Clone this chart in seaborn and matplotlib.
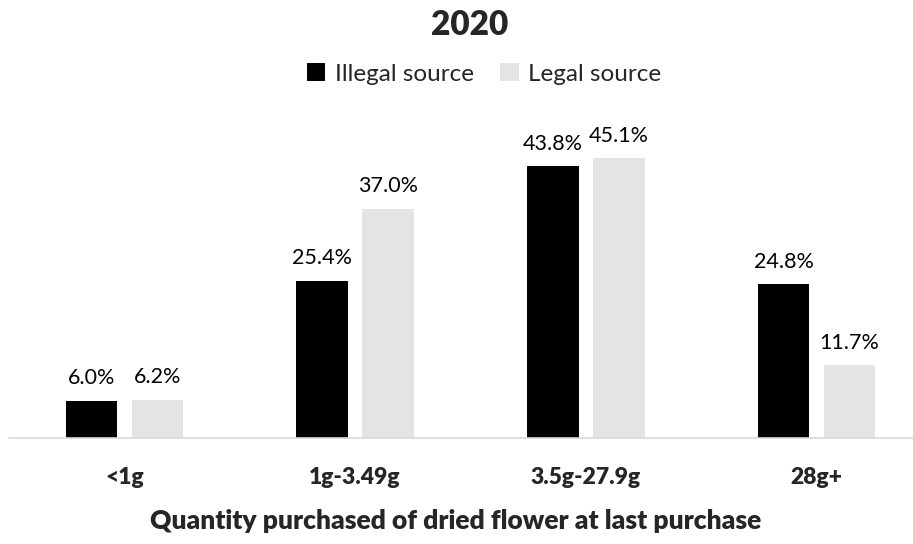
import matplotlib
matplotlib.use("Agg")
import matplotlib.pyplot as plt
from matplotlib.patches import Patch
import seaborn as sns
import pandas as pd

categories = ["<1g", "1g-3.49g", "3.5g-27.9g", "28g+"]
illegal = [6.0, 25.4, 43.8, 24.8]
legal = [6.2, 37.0, 45.1, 11.7]
series_names = ["Illegal source", "Legal source"]
colors = ["#000000", "#E4E4E4"]

df = pd.DataFrame({
    "quantity": categories * 2,
    "share": illegal + legal,
    "source": [series_names[0]] * len(categories) + [series_names[1]] * len(categories),
})

sns.set_theme(style="white")
plt.rcParams["font.family"] = ["Lato", "DejaVu Sans"]

fig = plt.figure(figsize=(9.13, 5.44), dpi=100)
ax = fig.add_axes([9 / 913, 1 - 438 / 544, 904 / 913, 310 / 544])

sns.barplot(data=df, x="quantity", y="share", hue="source", order=categories,
            hue_order=series_names, palette=colors, width=0.572, gap=0.22,
            linewidth=0, saturation=1, legend=False, ax=ax)

for cont in ax.containers:
    ax.bar_label(cont, fmt="%.1f%%", padding=9, fontsize=15.5, color="#000000")

ax.set_ylim(0, 50)
ax.set_xlim(-0.5, 3.5 - 19 / 230.8)
ax.set_yticks([])
ax.tick_params(axis="x", length=0, pad=21)
for lab in ax.get_xticklabels():
    lab.set_fontweight("heavy")
    lab.set_fontsize(16.5)
for s in ["top", "left", "right"]:
    ax.spines[s].set_visible(False)
ax.spines["bottom"].set_color("#D9D9D9")
ax.spines["bottom"].set_linewidth(1.2)
ax.set_ylabel("")
ax.set_xlabel("Quantity purchased of dried flower at last purchase",
              fontsize=19, fontweight="heavy", va="center")
ax.xaxis.set_label_coords((456 - 9) / 904, -(521 - 438) / 310)

fig.text(470 / 913, 1 - 25 / 544, "2020", ha="center", va="center",
         fontsize=24, fontweight="heavy")

handles = [Patch(facecolor=c, edgecolor="none") for c in colors]
fig.legend(handles, series_names, loc="center", bbox_to_anchor=(484 / 913, 1 - 74 / 544),
           ncol=2, frameon=False, fontsize=17.5, handlelength=0.75, handleheight=0.75,
           handletextpad=0.4, columnspacing=1.1)

fig.savefig("out.png", dpi=100, facecolor="white")
